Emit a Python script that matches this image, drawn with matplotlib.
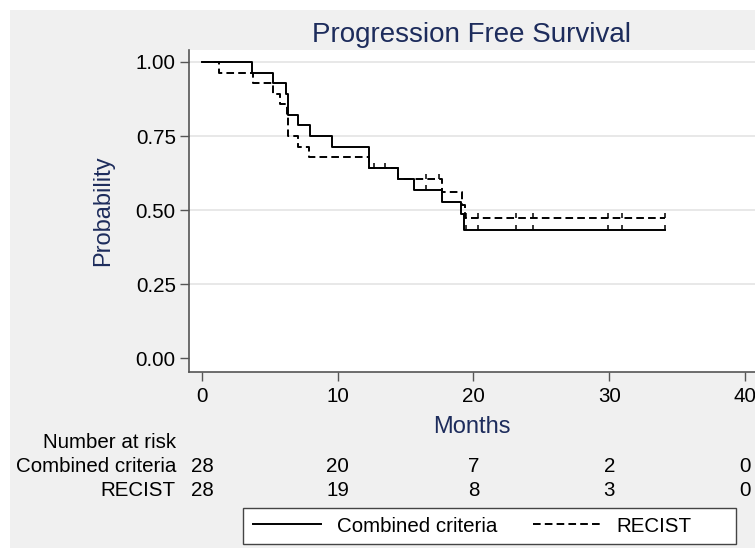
import matplotlib
matplotlib.use("Agg")
import matplotlib.pyplot as plt
import numpy as np
from matplotlib.patches import Rectangle
from matplotlib.path import Path
from matplotlib.ticker import FormatStrFormatter
from matplotlib.transforms import blended_transform_factory

plt.rcParams['font.family'] = 'Liberation Sans'
plt.rcParams['lines.scale_dashes'] = False

# Kaplan-Meier steps (months, survival)
comb_times = [0, 3.66, 5.25, 6.16, 6.31, 7.10, 7.96, 9.55, 12.28, 14.47, 15.62, 17.66, 19.06, 19.30]
comb_surv = [1.0, 0.964, 0.929, 0.893, 0.821, 0.786, 0.750, 0.714, 0.643, 0.605, 0.567, 0.527, 0.486, 0.432]
comb_censor = [12.7, 16.5, 19.45, 20.36, 23.13, 24.36, 29.93, 30.91, 34.1]

rec_times = [0, 1.28, 3.73, 5.25, 5.75, 6.24, 6.31, 7.10, 7.91, 12.33, 14.47, 17.66, 19.13, 19.35]
rec_surv = [1.0, 0.964, 0.929, 0.893, 0.857, 0.821, 0.750, 0.714, 0.679, 0.643, 0.605, 0.562, 0.516, 0.472]
rec_censor = [13.48, 16.5, 17.48, 19.45, 20.36, 23.13, 24.36, 29.93, 30.91, 34.1]

t_end = 34.1

risk_times = [0, 10, 20, 30, 40]
risk_combined = [28, 20, 7, 2, 0]
risk_recist = [28, 19, 8, 3, 0]

navy = '#1d2c5c'
axcol = '#555555'
W, H = 755, 548

fig = plt.figure(figsize=(W / 100, H / 100), dpi=100, facecolor='white')
fig.patches.append(Rectangle((10 / W, 0), 1 - 10 / W, 1 - 10 / H, transform=fig.transFigure,
                             facecolor='#f0f0f0', edgecolor='none', zorder=-10))

ax = fig.add_axes([189 / W, 1 - 372 / H, 1 - 189 / W, (372 - 50) / H])
ax.set_facecolor('white')


def km_step(ax, times, surv, **kw):
    x = np.append(times, t_end)
    y = np.append(surv, surv[-1])
    line, = ax.step(x, y, where='post', color='black', lw=1.4, **kw)
    return line


def censor_marks(ax, times, surv, cens):
    idx = np.searchsorted(times, cens, side='right') - 1
    yv = np.array(surv)[idx]
    tick = Path([(0, 0), (0, 1)])
    ax.plot(cens, yv, linestyle='none', marker=tick, markersize=7.4,
            markeredgewidth=1.1, color='black')


l1 = km_step(ax, comb_times, comb_surv)
l2 = km_step(ax, rec_times, rec_surv, dashes=(5.5, 3))
censor_marks(ax, comb_times, comb_surv, comb_censor)
censor_marks(ax, rec_times, rec_surv, rec_censor)

yticks = [0, 0.25, 0.5, 0.75, 1.0]
for yt in yticks[1:]:
    ax.axhline(yt, color='#e6e6e6', lw=1.3, zorder=0)

ax.set_xlim(-0.96, 40.74)
ax.set_ylim(-0.047, 1.0405)
ax.set_xticks(risk_times)
ax.set_yticks(yticks)
ax.yaxis.set_major_formatter(FormatStrFormatter('%.2f'))

for s in ['top', 'right']:
    ax.spines[s].set_visible(False)
for s in ['left', 'bottom']:
    ax.spines[s].set_color(axcol)
    ax.spines[s].set_linewidth(1.2)

ax.tick_params(axis='both', direction='out', length=6.5, width=1.0, color=axcol,
               labelsize=14.8, labelcolor='black')
ax.tick_params(axis='y', pad=3)
ax.tick_params(axis='x', pad=4.5)

ax.set_title('Progression Free Survival', fontsize=20, color=navy, pad=5.8)
ax.set_ylabel('Probability', fontsize=17, color=navy)
ax.yaxis.set_label_coords(-0.1325, 0.5)
ax.set_xlabel('Months', fontsize=17, color=navy)
ax.xaxis.set_label_coords(0.5, -0.1366)

# number at risk table
fs = 14.8
tr = blended_transform_factory(ax.transData, fig.transFigure)
fig.text(176 / W, 1 - 448 / H, 'Number at risk', ha='right', va='baseline', fontsize=fs)
fig.text(176 / W, 1 - 472 / H, 'Combined criteria', ha='right', va='baseline', fontsize=fs)
fig.text(176 / W, 1 - 496 / H, 'RECIST', ha='right', va='baseline', fontsize=fs)
for t, n1, n2 in zip(risk_times, risk_combined, risk_recist):
    ax.text(t, 1 - 472 / H, str(n1), transform=tr, ha='center', va='baseline',
            fontsize=fs, clip_on=False)
    ax.text(t, 1 - 496 / H, str(n2), transform=tr, ha='center', va='baseline',
            fontsize=fs, clip_on=False)

# legend box + entries
fig.patches.append(Rectangle((243 / W, 1 - 544 / H), (736 - 243) / W, (544 - 508) / H,
                             transform=fig.transFigure, facecolor='white',
                             edgecolor='#444444', lw=1.0, zorder=1))
leg = fig.legend([l1, l2], ['Combined criteria', 'RECIST'], ncol=2, loc='center left',
                 bbox_to_anchor=(253 / W, 1 - 526 / H), frameon=False, fontsize=fs,
                 borderpad=0, borderaxespad=0, handlelength=3.3, handletextpad=0.8,
                 columnspacing=1.7)
leg.set_zorder(2)

fig.savefig('out.png', dpi=100, facecolor='white')
